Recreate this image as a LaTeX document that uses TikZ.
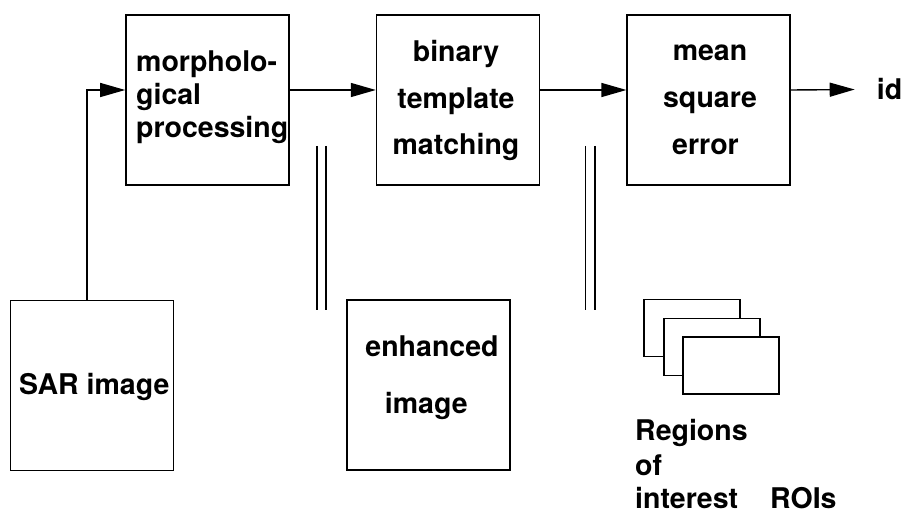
\documentclass[tikz,border=0pt]{standalone}
\usepackage{fontspec}
\setmainfont{TeX Gyre Heros}
\usepackage{tikz}
\usetikzlibrary{chains,arrows.meta}
\tikzstyle{block}=[draw,line width=1.6pt,minimum width=163pt,minimum height=170pt]
\tikzstyle{roi}=[draw,fill=white,line width=1.6pt,minimum width=96pt,minimum height=57pt]
\tikzstyle{lbl}=[font=\fontsize{28.5}{34}\selectfont\bfseries,inner sep=0pt]
\tikzstyle{flow}=[line width=1.4pt,-{Triangle[length=25pt,width=14pt]}]
\tikzstyle{store}=[line width=1.3pt]

\begin{document}
\begin{tikzpicture}[x=1pt,y=-1pt]
\useasboundingbox (0,0) rectangle (903,513);
% processing chain
\begin{scope}[start chain=1 going right, node distance=86pt]
    \node [on chain=1,block] (morph) at (207.5,100) {};
    \node [on chain=1,block] (bin) {};
    \node [on chain=1,block] (mse) {};
\end{scope}
\node [lbl,anchor=base west] (morph1) at (136,71.5) {morpholo-};
\node [lbl,anchor=base west] (morph2) at (136,104.5) {gical};
\node [lbl,anchor=base west] (morph3) at (136,138) {processing};
\node [lbl,anchor=base] (bin1) at (456,61.7) {binary};
\node [lbl,anchor=base] (bin2) at (456,108.3) {template};
\node [lbl,anchor=base] (bin3) at (456,155) {matching};
\node [lbl,anchor=base] (mse1) at (710,61) {mean};
\node [lbl,anchor=base] (mse2) at (710,108) {square};
\node [lbl,anchor=base] (mse3) at (705.5,155) {error};
\node [lbl,anchor=base west] (id) at (876.7,100) {id};
% data
\node [block] (sar) at (92,385.5) {};
\node [lbl,anchor=base west] (sartxt) at (19,394.3) {SAR image};
\node [block] (enh) at (428.3,385) {};
\node [lbl,anchor=base] (enh1) at (432,356.7) {enhanced};
\node [lbl,anchor=base] (enh2) at (426.3,413.3) {image};
\node [roi] (roi1) at (691.7,328) {};
\node [roi] (roi2) at (711.7,347) {};
\node [roi] (roi3) at (731,365.7) {};
\node [lbl,anchor=base west] (reg1) at (635,440.7) {Regions};
\node [lbl,anchor=base west] (reg2) at (635,475) {of};
\node [lbl,anchor=base west] (reg3) at (635,508) {interest};
\node [lbl,anchor=base west] (rois) at (770,508) {ROIs};
% stores
\draw [store] (317,146) -- (317,310);
\draw [store] (326,146) -- (326,310);
\draw [store] (585.7,146) -- (585.7,310);
\draw [store] (595,146) -- (595,310);
% arrows
\draw [flow] ([xshift=-5pt]sar.north) |- ([yshift=10pt]morph.west);
\draw [flow] ([yshift=10pt]morph.east) -- ([yshift=10pt]bin.west);
\draw [flow] ([yshift=10pt]bin.east) -- ([yshift=10pt]mse.west);
\draw [flow] ([yshift=10pt]mse.east) -- ([xshift=-22pt]id.west);
\end{tikzpicture}
\end{document}
